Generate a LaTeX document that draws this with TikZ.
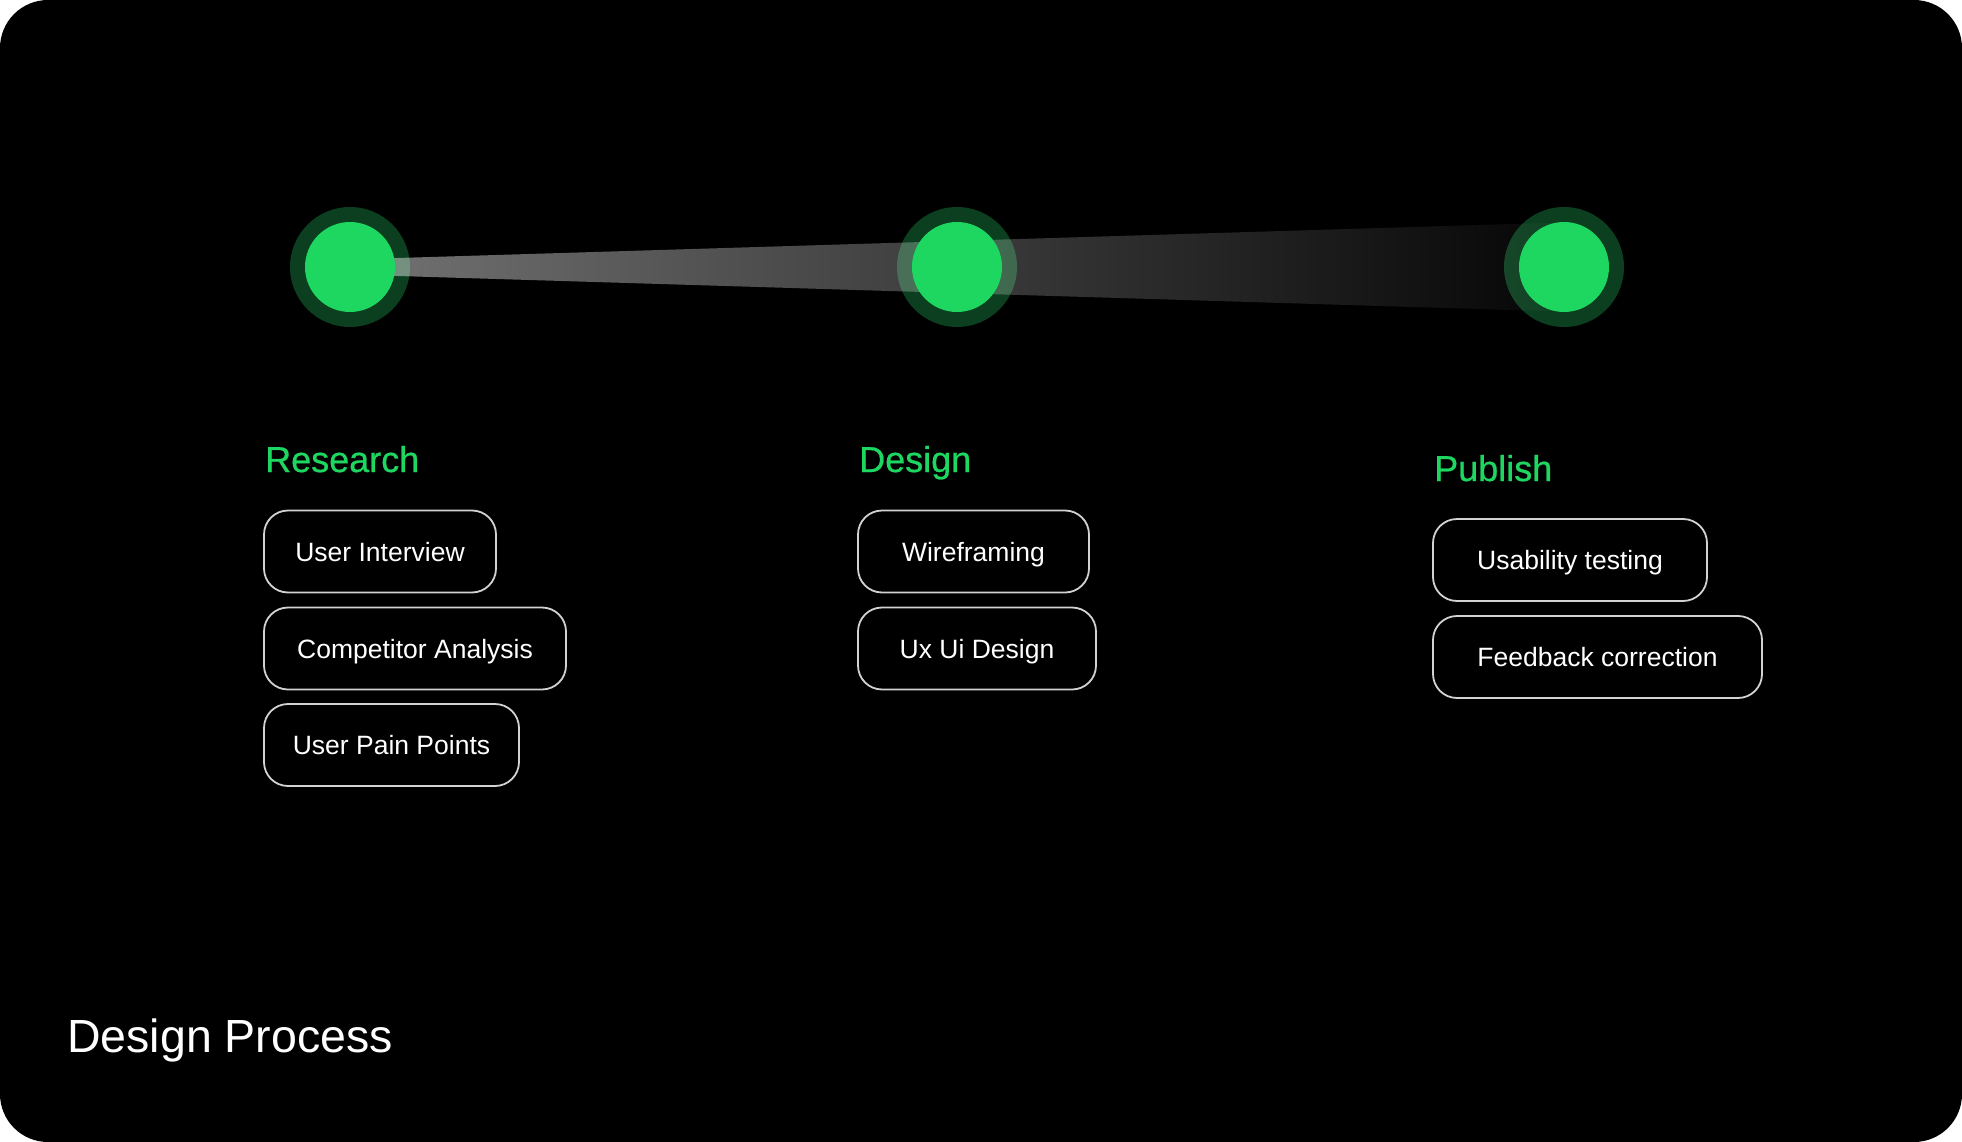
\documentclass[tikz,border=0pt]{standalone}
\usepackage{fontspec}
\setmainfont{Liberation Sans}
\newfontfamily\medfont[FakeBold=0.7]{Liberation Sans}
\usetikzlibrary{fadings,calc}
\definecolor{spot}{HTML}{1ED760}
\definecolor{ringgreen}{HTML}{0B3F1F}
\definecolor{boxline}{HTML}{D2D2D2}
\tikzfading[name=beamfade, left color=transparent!55, right color=transparent!98]
\tikzset{
  ring/.style={circle, fill=ringgreen, minimum size=120pt, inner sep=0pt},
  dot/.style={circle, fill=spot, minimum size=90pt, inner sep=0pt},
  phase/.style={anchor=base west, inner sep=0pt, text=spot, font=\medfont\fontsize{36pt}{42pt}\selectfont},
  taskbox/.style={draw=boxline, line width=1.8pt, rounded corners=24pt, text=white,
    minimum height=82pt, inner sep=0pt, text height=19pt, text depth=0pt,
    font=\fontsize{26.5pt}{32pt}\selectfont},
  bigtitle/.style={anchor=base west, inner sep=0pt, text=white, font=\fontsize{46.5pt}{54pt}\selectfont}
}
\begin{document}
\begin{tikzpicture}[x=1pt,y=-1pt]
\useasboundingbox (0,0) rectangle (1962,1142);
\fill[white] (0,0) rectangle (1962,1142);
\fill[black, rounded corners=48pt] (0,0) rectangle (1962,1142);
% outer rings
\node[ring] (r1) at (350,267) {};
\node[ring] (r2) at (957,267) {};
\node[ring] (r3) at (1564,267) {};
% beam
\fill[white, path fading=beamfade]
  ($(r1.center)+(0,-7.5)$) -- ($(r3.center)+(0,-44.5)$) -- ($(r3.center)+(0,44.5)$) -- ($(r1.center)+(0,7.5)$) -- cycle;
% inner dots
\node[dot] (g1) at (r1.center) {};
\node[dot] (g2) at (r2.center) {};
\node[dot] (g3) at (r3.center) {};
% titles
\node[phase] (t1) at (265,472) {Research};
\node[phase] (t2) at (859,472) {Design};
\node[phase] (t3) at (1434,481) {Publish};
% task boxes
\node[taskbox, minimum width=232pt] (ui) at (380,551.5) {User Interview};
\node[taskbox, minimum width=302pt] (ca) at (415,648.5) {Competitor Analysis};
\node[taskbox, minimum width=255pt] (pp) at (391.5,745) {User Pain Points};
\node[taskbox, minimum width=231pt] (wf) at (973.5,551.5) {Wireframing};
\node[taskbox, minimum width=238pt] (ux) at (977,648.5) {Ux Ui Design};
\node[taskbox, minimum width=274pt] (ut) at (1570,560) {Usability testing};
\node[taskbox, minimum width=329pt] (fc) at (1597.5,657) {Feedback correction};
% footer title
\node[bigtitle] (dp) at (67,1052) {Design Process};
\end{tikzpicture}
\end{document}
